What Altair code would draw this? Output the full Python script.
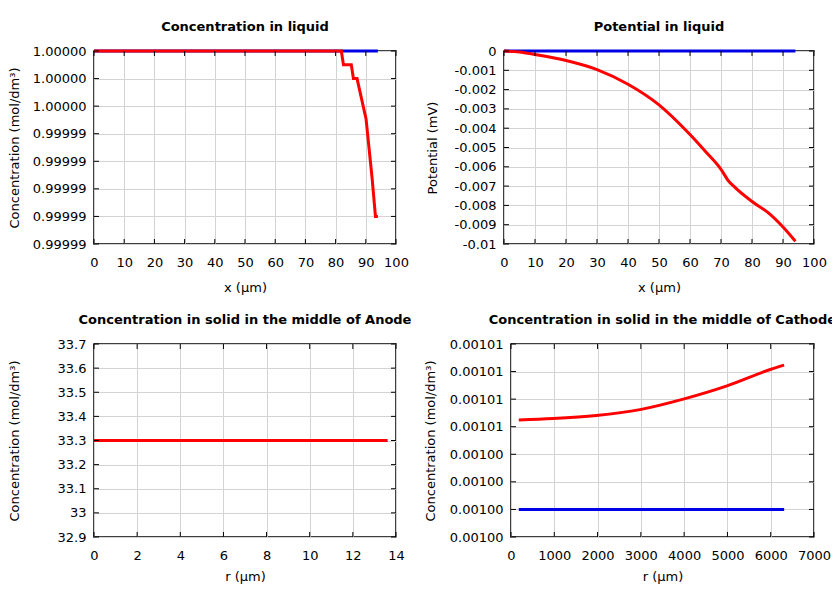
import altair as alt
import pandas as pd

FONT = "DejaVu Sans"
RED = "#ff0000"
BLUE = "#0000e6"

# ---- Panel 1: Concentration in liquid ----
liq_x_blue = [0, 94]
liq_c_blue = [1.0, 1.0]
liq_x_red = [0, 20, 40, 60, 80, 81.9, 82.6, 85.2, 85.9, 87.1, 90.1, 92.1, 93.2, 94.0]
liq_c_red = [1.0, 1.0, 1.0, 1.0, 1.0, 1.0, 0.999999, 0.999999, 0.999998, 0.999998,
             0.99999505, 0.99999074, 0.999988, 0.999988]
liq_xticks = [0, 10, 20, 30, 40, 50, 60, 70, 80, 90, 100]
liq_cticks = [0.999986, 0.999988, 0.999990, 0.999992, 0.999994, 0.999996, 0.999998, 1.0]

# ---- Panel 2: Potential in liquid ----
pot_x_blue = [0, 94]
pot_v_blue = [0.0, 0.0]
pot_x_red = [0, 5, 10, 20, 30, 40, 50, 60, 65, 70, 72.5, 74.5, 80, 85, 90, 94]
pot_v_red = [0.0, -0.00005, -0.00018, -0.00049, -0.00096, -0.00172, -0.00279, -0.00433,
             -0.00521, -0.00613, -0.00675, -0.00707, -0.0078, -0.00835, -0.00912, -0.00986]
pot_xticks = [0, 10, 20, 30, 40, 50, 60, 70, 80, 90, 100]
pot_vticks = [0, -0.001, -0.002, -0.003, -0.004, -0.005, -0.006, -0.007, -0.008, -0.009, -0.01]

# ---- Panel 3: Concentration in solid, Anode ----
an_r_blue = [0, 13.6]
an_c_blue = [33.3, 33.3]
an_r_red = [0, 13.6]
an_c_red = [33.3, 33.3]
an_rticks = [0, 2, 4, 6, 8, 10, 12, 14]
an_cticks = [32.9, 33.0, 33.1, 33.2, 33.3, 33.4, 33.5, 33.6, 33.7]

# ---- Panel 4: Concentration in solid, Cathode ----
ca_r_blue = [180, 6310]
ca_c_blue = [0.001000, 0.001000]
ca_r_red = [180, 970, 1970, 2980, 3980, 4990, 5990, 6310]
ca_c_red = [0.00100649, 0.00100659, 0.00100681, 0.00100724, 0.00100800,
            0.00100896, 0.00101015, 0.00101047]
ca_rticks = [0, 1000, 2000, 3000, 4000, 5000, 6000, 7000]
ca_cticks = [0.000998, 0.001000, 0.001002, 0.001004, 0.001006, 0.001008, 0.001010, 0.001012]

H = 193


def make_panel(title, w, h, xdom, xticks, xtitle, ydom, yticks, ytitle, yaxis_extra,
               series, interp="linear", x_title_pad=12):
    xs = alt.Scale(domain=xdom, nice=False, zero=False)
    ys = alt.Scale(domain=ydom, nice=False, zero=False)
    xax = alt.Axis(values=xticks, title=xtitle, format="d", titlePadding=x_title_pad)
    yax = alt.Axis(values=yticks, title=ytitle, **yaxis_extra)
    layers = []
    for xv, yv, col in series:
        df = pd.DataFrame({"x": xv, "y": yv})
        layers.append(
            alt.Chart(df).mark_line(color=col, strokeWidth=3, interpolate=interp).encode(
                x=alt.X("x:Q", scale=xs, axis=xax),
                y=alt.Y("y:Q", scale=ys, axis=yax),
            )
        )
    xt = pd.DataFrame({"x": xticks})
    yt = pd.DataFrame({"y": yticks})
    tk = dict(color="black", strokeWidth=1)
    t_bottom = alt.Chart(xt).mark_rule(**tk).encode(
        x=alt.X("x:Q", scale=xs, axis=xax), y=alt.value(h), y2=alt.value(h - 5))
    t_top = alt.Chart(xt).mark_rule(**tk).encode(
        x=alt.X("x:Q", scale=xs, axis=xax), y=alt.value(0), y2=alt.value(5))
    t_left = alt.Chart(yt).mark_rule(**tk).encode(
        y=alt.Y("y:Q", scale=ys, axis=yax), x=alt.value(0), x2=alt.value(5))
    t_right = alt.Chart(yt).mark_rule(**tk).encode(
        y=alt.Y("y:Q", scale=ys, axis=yax), x=alt.value(w), x2=alt.value(w - 5))
    return alt.layer(*layers, t_bottom, t_top, t_left, t_right).properties(
        width=w, height=h,
        title=alt.TitleParams(title, offset=1, baseline="alphabetic"),
    )


conc_title = "Concentration (mol/dm³)"

p1 = make_panel("Concentration in liquid", 302, H, [0, 100], liq_xticks, "x (µm)",
                [0.999986, 1.0], liq_cticks, conc_title,
                {"format": ".5f", "titlePadding": 11},
                [(liq_x_blue, liq_c_blue, BLUE), (liq_x_red, liq_c_red, RED)])
p2 = make_panel("Potential in liquid", 310, H, [0, 100], pot_xticks, "x (µm)",
                [-0.01, 0.0], pot_vticks, "Potential (mV)",
                {"labelExpr": "replace(format(datum.value, '.3~f'), '\u2212', '-')",
                 "titlePadding": 15},
                [(pot_x_blue, pot_v_blue, BLUE), (pot_x_red, pot_v_red, RED)],
                interp="monotone")
p3 = make_panel("Concentration in solid in the middle of Anode", 302, H, [0, 14], an_rticks,
                "r (µm)", [32.9, 33.7], an_cticks, conc_title,
                {"format": ".1~f", "titlePadding": 36},
                [(an_r_blue, an_c_blue, BLUE), (an_r_red, an_c_red, RED)],
                x_title_pad=8)
p4 = make_panel("Concentration in solid in the middle of Cathode", 303, H, [0, 7000], ca_rticks,
                "r (µm)", [0.000998, 0.001012], ca_cticks, conc_title,
                {"format": ".5f", "titlePadding": 12},
                [(ca_r_blue, ca_c_blue, BLUE), (ca_r_red, ca_c_red, RED)],
                interp="monotone", x_title_pad=8)

row1 = alt.hconcat(p1, p2, spacing=15)
row2 = alt.hconcat(p3, p4, spacing=10)

chart = (
    alt.vconcat(row1, row2, spacing=18)
    .properties(autosize=alt.AutoSizeParams(type="none"),
                padding={"left": 86, "top": 43, "right": 738, "bottom": 536},
                background="white")
    .configure_view(stroke="black", strokeWidth=1.5)
    .configure_axis(
        labelFont=FONT, labelFontSize=13, labelColor="black",
        titleFont=FONT, titleFontSize=13, titleFontWeight="normal", titleColor="black",
        ticks=False, domain=False, grid=True, gridColor="#d3d3d3", gridWidth=1,
        labelFlush=False, labelOverlap=False,
    )
    .configure_axisX(labelPadding=12)
    .configure_axisY(labelPadding=8)
    .configure_title(font=FONT, fontSize=13, fontWeight="bold", color="black", anchor="middle")
)

chart.save("out.html", embed_options={"renderer": "svg", "actions": False})
